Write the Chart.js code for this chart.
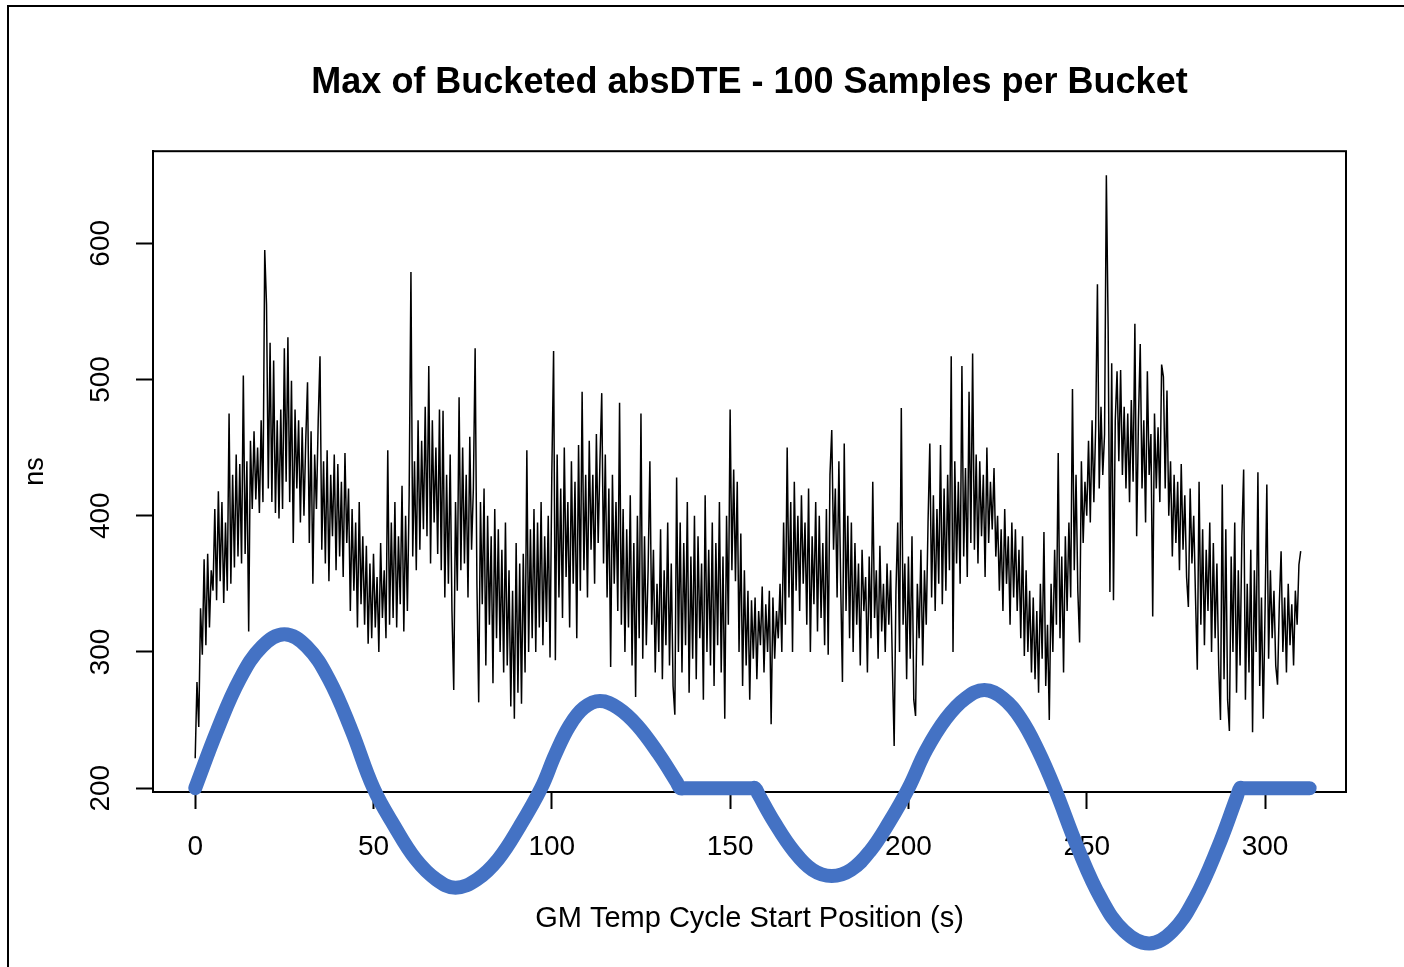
<!DOCTYPE html>
<html>
<head>
<meta charset="utf-8">
<script src="https://cdn.jsdelivr.net/npm/chart.js@4.4.1/dist/chart.umd.min.js"></script>
<style>
  html, body { margin: 0; padding: 0; background: #fff; overflow: hidden; }
  #wrap { position: relative; width: 1404px; height: 967px; }
  #frame { position: absolute; left: 7px; top: 5px; width: 1500px; height: 1100px; border: 2.5px solid #000; box-sizing: border-box; pointer-events: none; }
  canvas { position: absolute; left: 0; top: 0; }
</style>
</head>
<body>
<div id="wrap">
  <canvas id="c" width="1404" height="967"></canvas>
  <div id="frame"></div>
</div>
<script>
// ---- data ----
const timeStart = 0;      // s, first bucket
const timeStep = 0.5;     // s between buckets
const absDteMax = [
  222,278,245,332,298,368,305,372,318,360,
  345,405,338,418,352,410,336,395,345,475,
  350,430,362,445,370,438,365,503,372,440,
  315,455,405,462,412,450,402,470,410,595,
  555,420,527,410,514,402,470,398,478,405,
  523,425,531,410,499,380,478,420,470,395,
  465,400,455,498,380,462,350,445,405,470,
  517,375,440,365,448,352,430,385,445,360,
  438,370,425,355,446,380,420,330,405,345,
  395,318,410,335,385,320,378,306,365,310,
  372,318,355,300,380,325,360,310,448,320,
  395,325,410,318,385,335,422,315,400,330,
  415,579,370,440,360,470,375,455,390,480,
  385,510,365,470,395,450,372,478,360,477,
  340,430,350,445,330,272,410,345,487,360,
  450,365,430,340,458,375,420,523,350,263,
  410,335,420,290,400,320,385,277,405,310,
  390,300,375,285,395,290,360,260,345,251,
  380,270,365,262,372,285,448,300,390,310,
  405,300,395,318,410,305,385,322,400,296,
  430,521,294,445,340,420,325,450,355,410,
  318,440,350,425,310,452,345,491,360,430,
  340,455,375,430,350,460,380,440,490,365,
  445,340,420,289,430,350,410,330,483,320,
  405,300,390,318,415,290,380,267,400,310,
  475,295,385,305,360,440,320,375,285,350,
  300,390,280,360,305,395,290,365,275,254,
  428,300,395,285,380,305,410,270,370,295,
  400,280,385,310,365,265,415,300,375,290,
  395,275,380,305,410,285,370,251,400,320,
  478,360,434,352,425,300,387,275,360,290,
  345,265,338,295,340,280,330,305,348,285,
  335,300,345,247,340,295,330,310,350,300,
  395,320,450,340,410,300,425,345,400,330,
  415,350,395,320,420,300,385,335,410,315,
  400,325,380,305,405,298,430,463,375,420,
  340,440,350,278,453,330,400,310,395,300,
  380,320,365,290,375,330,355,285,370,310,
  425,325,360,295,378,315,350,300,365,320,
  360,290,231,345,395,300,479,320,365,280,
  370,295,385,265,253,350,310,375,290,360,
  320,395,453,340,415,330,405,350,452,335,
  420,345,430,360,517,300,440,365,425,350,
  510,370,435,355,491,380,519,375,445,365,
  440,385,430,355,450,380,425,390,435,370,
  400,345,390,330,405,350,385,320,395,340,
  390,330,375,310,385,297,360,300,345,285,
  340,280,330,270,350,295,388,275,320,250,
  350,300,375,320,446,310,370,285,385,330,
  395,340,493,360,430,345,307,440,380,425,
  400,455,395,470,410,465,570,420,480,430,
  460,650,538,344,512,338,470,506,440,507,
  430,480,420,475,410,485,425,541,385,470,
  526,420,470,395,506,430,460,326,475,420,
  465,410,511,502,420,492,400,440,370,430,
  380,425,360,438,375,415,355,333,420,365,
  400,340,287,425,320,390,305,375,330,395,
  300,380,310,365,290,250,423,280,390,265,
  242,370,300,395,270,360,290,385,434,265,
  350,285,375,241,360,300,432,275,340,251,
  330,423,295,360,310,345,290,276,335,374,
  300,340,285,350,305,335,290,345,320,364,
  374
];

// Overlaid temperature-cycle sketch (blue), read point by point
const cycleTimes  = [0, 6.25, 12.5, 18.75, 25, 31.25, 37.5, 43.75, 50,
                     55.9, 61.8, 67.6, 73, 79, 85, 91, 97,
                     101, 105, 109, 113.5, 118.5, 124, 130, 135, 136, 137,
                     156, 157, 158, 162.4, 167.8, 173.1, 178.5, 183.9, 189.3, 194.6, 200,
                     205, 210.5, 216, 221.3, 226.5, 231.5, 236.3, 241,
                     247.5, 254, 260.5, 267.5, 274, 280.3, 286.7, 292, 293, 294, 312.5];
const cycleValues = [200, 243, 280, 304, 313, 304, 280, 243, 200,
                     172, 148, 133, 127, 133, 148, 172, 200,
                     225, 246, 259, 264, 259, 246, 225, 204.5, 200, 200,
                     200, 200, 195.3, 175, 154, 140, 135.5, 140, 154, 175, 200,
                     228, 251, 266, 272, 266, 251, 228, 200,
                     156, 119, 95, 86, 95, 119, 156, 193, 200, 200, 200];

const xTickValues = [0, 50, 100, 150, 200, 250, 300];
const yTickValues = [200, 300, 400, 500, 600];

const titleText = 'Max of Bucketed absDTE - 100 Samples per Bucket';
const xTitle = 'GM Temp Cycle Start Position (s)';
const yTitle = 'ns';

// ---- build datasets ----
const dtePoints = absDteMax.map((v, i) => ({ x: timeStart + i * timeStep, y: v }));
const cyclePoints = cycleTimes.map((t, i) => ({ x: t, y: cycleValues[i] }));

const FONT = "'Liberation Sans', Arial, sans-serif";

const boxPlugin = {
  id: 'rbox',
  beforeDatasetsDraw(chart) {
    const { ctx, chartArea: a } = chart;
    ctx.save();
    ctx.strokeStyle = '#000';
    ctx.lineWidth = 2;
    ctx.strokeRect(a.left, a.top, a.right - a.left, a.bottom - a.top);
    // rotated y tick labels (R style, parallel to axis)
    const ys = chart.scales.y;
    ctx.fillStyle = '#000';
    ctx.font = '28px ' + FONT;
    ctx.textAlign = 'center';
    ctx.textBaseline = 'middle';
    ys.ticks.forEach(t => {
      const py = ys.getPixelForValue(t.value);
      ctx.save();
      ctx.translate(101, py);
      ctx.rotate(-Math.PI / 2);
      ctx.fillText(String(t.value), 0, 0);
      ctx.restore();
    });
    ctx.restore();
  }
};

new Chart(document.getElementById('c'), {
  type: 'line',
  data: {
    datasets: [
      {
        label: 'GM temp cycle',
        data: cyclePoints,
        borderColor: '#4472C4',
        backgroundColor: '#4472C4',
        borderWidth: 14,
        pointRadius: 0,
        tension: 0.4,
        borderCapStyle: 'round',
        borderJoinStyle: 'round',
        clip: false,
        order: 0
      },
      {
        label: 'Max absDTE',
        data: dtePoints,
        borderColor: '#000',
        borderWidth: 1.5,
        pointRadius: 0,
        tension: 0,
        order: 1
      }
    ]
  },
  options: {
    responsive: false,
    animation: false,
    events: [],
    layout: { padding: { left: 0, right: 58, top: 0, bottom: 0 } },
    plugins: {
      legend: { display: false },
      tooltip: { enabled: false },
      title: {
        display: true,
        text: titleText,
        fullSize: false,
        color: '#000',
        font: { family: FONT, size: 36, weight: 'bold' },
        padding: { top: 61, bottom: 47 }
      }
    },
    scales: {
      x: {
        type: 'linear',
        min: -11.83,
        max: 322.7,
        afterBuildTicks: s => { s.ticks = xTickValues.map(v => ({ value: v })); },
        afterFit: s => { s.height = 175; },
        grid: { display: true, drawOnChartArea: false, drawTicks: true, tickLength: 17, tickColor: '#000', tickWidth: 2, color: '#000' },
        border: { display: true, color: '#000', width: 2 },
        ticks: { autoSkip: false, maxRotation: 0, color: '#000', padding: 21, font: { family: FONT, size: 28 } },
        title: { display: true, text: xTitle, color: '#000', font: { family: FONT, size: 29 }, padding: { top: 0, bottom: 31 } }
      },
      y: {
        type: 'linear',
        min: 197.2,
        max: 667.6,
        afterBuildTicks: s => { s.ticks = yTickValues.map(v => ({ value: v })); },
        afterFit: s => { s.width = 153; },
        grid: { display: true, drawOnChartArea: false, drawTicks: true, tickLength: 17, tickColor: '#000', tickWidth: 2, color: '#000' },
        border: { display: true, color: '#000', width: 2 },
        ticks: { display: false },
        title: { display: true, text: yTitle, color: '#000', font: { family: FONT, size: 27 }, padding: { top: 19, bottom: 0 } }
      }
    }
  },
  plugins: [boxPlugin]
});
</script>
</body>
</html>
